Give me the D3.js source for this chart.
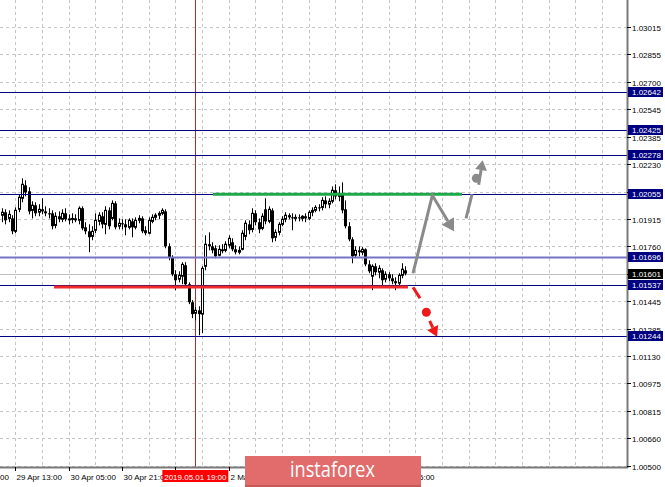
<!DOCTYPE html>
<html><head><meta charset="utf-8">
<script src="https://cdn.jsdelivr.net/npm/d3@7"></script>
<style>
body{margin:0;background:#fff;}
svg{display:block;font-family:"Liberation Sans",Arial,sans-serif;}
</style>
</head><body>
<svg id="c" width="665" height="487"></svg>
<script>
// ---- data (H1 candles) ----
const opens = [1.01935,1.01952,1.01917,1.01917,1.01843,1.01969,1.02032,1.02106,1.02072,1.01963,
1.01992,1.01952,1.01969,1.01957,1.01946,1.01946,1.01877,1.01929,1.01912,1.01946,
1.01912,1.01912,1.01917,1.01906,1.01975,1.01866,1.01843,1.01814,1.01849,1.01900,
1.01929,1.01883,1.01963,1.01917,1.02003,1.01872,1.01889,1.01883,1.01866,1.01900,
1.01866,1.01906,1.01917,1.01849,1.01832,1.01900,1.01923,1.01935,1.01946,1.01957,
1.01757,1.01694,1.01597,1.01569,1.01586,1.01649,1.01540,1.01437,1.01374,1.01391,
1.01369,1.01643,1.01769,1.01757,1.01746,1.01706,1.01740,1.01734,1.01763,1.01780,
1.01740,1.01723,1.01740,1.01814,1.01883,1.01854,1.01946,1.01895,1.01860,1.01969,
1.01900,1.01963,1.01809,1.01837,1.01883,1.01912,1.01935,1.01923,1.01917,1.01923,
1.01917,1.01929,1.01917,1.01952,1.01963,1.01980,1.01980,1.02020,1.01998,1.02015,
1.02078,1.02043,1.02055,1.01969,1.01872,1.01797,1.01706,1.01734,1.01723,1.01740,
1.01654,1.01586,1.01643,1.01609,1.01620,1.01569,1.01597,1.01574,1.01557,1.01546,
1.01591,1.01620];
const highs = [1.01975,1.01969,1.01963,1.01935,1.01980,1.02055,1.02146,1.02135,1.02095,1.02015,
1.02009,1.01998,1.02032,1.01986,1.01975,1.01963,1.01952,1.01957,1.01969,1.01975,
1.01940,1.01946,1.01940,1.01986,1.01986,1.01895,1.01883,1.01872,1.01946,1.01952,
1.01952,1.01986,1.01980,1.02020,1.02015,1.01917,1.01912,1.01912,1.01917,1.01917,
1.01923,1.01935,1.01929,1.01872,1.01923,1.01940,1.01946,1.01957,1.01975,1.01969,
1.01774,1.01706,1.01620,1.01614,1.01666,1.01666,1.01551,1.01449,1.01409,1.01414,
1.01643,1.01820,1.01837,1.01780,1.01763,1.01763,1.01769,1.01786,1.01820,1.01803,
1.01763,1.01757,1.01849,1.01906,1.01906,1.01975,1.01963,1.01917,1.01946,1.02032,
1.01986,1.01975,1.01854,1.01895,1.01929,1.01952,1.01946,1.01946,1.01940,1.01940,
1.01935,1.01946,1.01963,1.01980,1.01992,1.01998,1.02038,1.02043,1.02032,1.02100,
1.02112,1.02100,1.02123,1.02020,1.01895,1.01809,1.01757,1.01757,1.01752,1.01746,
1.01677,1.01654,1.01660,1.01649,1.01631,1.01614,1.01609,1.01597,1.01580,1.01603,
1.01660,1.01643];
const lows = [1.01895,1.01883,1.01895,1.01826,1.01832,1.01952,1.02009,1.02043,1.01940,1.01917,
1.01929,1.01929,1.01940,1.01929,1.01917,1.01854,1.01860,1.01895,1.01895,1.01900,
1.01883,1.01889,1.01895,1.01883,1.01849,1.01826,1.01723,1.01792,1.01832,1.01877,
1.01860,1.01826,1.01854,1.01906,1.01854,1.01854,1.01854,1.01820,1.01854,1.01809,
1.01854,1.01889,1.01832,1.01820,1.01826,1.01889,1.01906,1.01912,1.01935,1.01746,
1.01677,1.01586,1.01506,1.01551,1.01540,1.01529,1.01426,1.01346,1.01334,1.01248,
1.01260,1.01620,1.01734,1.01717,1.01689,1.01700,1.01717,1.01723,1.01746,1.01729,
1.01711,1.01711,1.01734,1.01792,1.01826,1.01837,1.01877,1.01832,1.01849,1.01883,
1.01889,1.01780,1.01786,1.01820,1.01872,1.01895,1.01912,1.01849,1.01900,1.01900,
1.01900,1.01895,1.01906,1.01929,1.01952,1.01957,1.01963,1.01975,1.01975,1.02003,
1.02026,1.02015,1.01946,1.01860,1.01786,1.01660,1.01689,1.01700,1.01706,1.01643,
1.01603,1.01506,1.01591,1.01574,1.01534,1.01551,1.01557,1.01540,1.01506,1.01529,
1.01574,1.01591];
const closes = [1.01952,1.01906,1.01940,1.01843,1.01963,1.02038,1.02112,1.02066,1.01957,1.01992,
1.01946,1.01969,1.01957,1.01946,1.01940,1.01872,1.01929,1.01912,1.01946,1.01912,
1.01914,1.01917,1.01906,1.01975,1.01860,1.01843,1.01809,1.01843,1.01906,1.01935,
1.01883,1.01963,1.01872,1.02003,1.01866,1.01889,1.01883,1.01866,1.01906,1.01866,
1.01906,1.01917,1.01843,1.01832,1.01906,1.01923,1.01935,1.01946,1.01963,1.01757,
1.01694,1.01597,1.01563,1.01591,1.01654,1.01540,1.01437,1.01369,1.01391,1.01369,
1.01631,1.01769,1.01757,1.01734,1.01700,1.01740,1.01729,1.01769,1.01803,1.01740,
1.01723,1.01734,1.01832,1.01889,1.01849,1.01946,1.01895,1.01854,1.01929,1.01900,
1.01969,1.01803,1.01837,1.01883,1.01912,1.01935,1.01923,1.01917,1.01923,1.01917,
1.01929,1.01917,1.01952,1.01963,1.01980,1.01975,1.02020,1.01998,1.02015,1.02078,
1.02043,1.02055,1.01963,1.01872,1.01797,1.01700,1.01734,1.01723,1.01740,1.01654,
1.01614,1.01643,1.01609,1.01631,1.01563,1.01597,1.01574,1.01557,1.01546,1.01591,
1.01626,1.01601];

const levelPrices = [1.02642, 1.02425, 1.02278, 1.02055, 1.01696, 1.01537, 1.01244];
const levelLabels = ["1.02642","1.02425","1.02278","1.02055","1.01696","1.01537","1.01244"];
const currentPrice = 1.01601;
const currentLabel = "1.01601";
// price scale ticks (the ones hidden under the level boxes are left out)
const yTickValues = [1.03015,1.02855,1.02700,1.02545,1.02385,1.02230,1.02070,1.01915,
  1.01760,1.01600,1.01445,1.01285,1.01130,1.00975,1.00815,1.00660,1.00500];
const yTickLabels = ["1.03015","1.02855","1.02700","1.02545","1.02385","1.02230","","1.01915",
  "1.01760","","1.01445","1.01285","1.01130","1.00975","1.00815","1.00660","1.00500"];
// time scale ticks every 16 bars; labels hidden under boxes are left empty
const timeLabelIdx = [-12, 4, 20, 36, 52, 68, 84, 100, 116];
const timeLabels = ["28 Apr 21:00","29 Apr 13:00","30 Apr 05:00","30 Apr 21:00","",
  "2 May 05:00","","","6 May 05:00"];
const gridIdx = d3.range(4, 188, 8);
const markerIdx = 58, markerLabel = "2019.05.01 19:00";
// drawn objects (bar index, price)
const supportLine = [[15.6, 1.01525], [121.8, 1.01525]];
const resistanceLine = [[63.3, 1.02055], [138, 1.02055]];
const greyArrow = [[123.3, 1.01603], [129.1, 1.02049], [135.6, 1.01843]];
const greyDash = [[139.2, 1.01917], [141.0, 1.02055]];
const greyDot = [142.3, 1.02146];
const greyHead = [[143.0, 1.02110], [144.2, 1.02250]];
const redDash = [[123.3, 1.01523], [125.4, 1.01460]];
const redDot = [127.3, 1.01380];
const redHead = [[128.3, 1.01330], [130.5, 1.01240]];

// ---- layout ----
const W = 665, H = 487, plotR = 627, plotB = 467;
const svg = d3.select("#c");
const x = d3.scaleLinear().domain([0, 187.5]).range([2, 627]);
const y = d3.scaleLinear().domain([1.005, 1.03015]).range([466, 26.5]);

svg.append("rect").attr("width", W).attr("height", H).attr("fill", "#fff");

// grid
const grid = svg.append("g").attr("stroke", "#c6c6c6").attr("stroke-dasharray", "3,3").attr("stroke-width", 1);
yTickValues.forEach(t => {
  const yy = Math.round(y(t)) + 0.5;
  grid.append("line").attr("x1", 0).attr("x2", plotR).attr("y1", yy).attr("y2", yy);
});
gridIdx.forEach(i => {
  const xx = Math.round(x(i)) + 0.5;
  if (xx < plotR) grid.append("line").attr("x1", xx).attr("x2", xx).attr("y1", 0).attr("y2", plotB);
});

// current price line
svg.append("line").attr("x1", 0).attr("x2", plotR)
  .attr("y1", Math.round(y(currentPrice)) + 0.5).attr("y2", Math.round(y(currentPrice)) + 0.5)
  .attr("stroke", "#c0c0c0").attr("stroke-width", 1);

// marker vertical line
svg.append("line").attr("x1", Math.round(x(markerIdx)) + 0.5).attr("x2", Math.round(x(markerIdx)) + 0.5)
  .attr("y1", 0).attr("y2", plotB).attr("stroke", "#c02828").attr("stroke-width", 1);

// candles
const cg = svg.append("g");
closes.forEach((c, i) => {
  const cx = Math.round(x(i));
  const o = opens[i];
  cg.append("line").attr("x1", cx + 0.5).attr("x2", cx + 0.5)
    .attr("y1", y(highs[i])).attr("y2", y(lows[i])).attr("stroke", "#000").attr("stroke-width", 1);
  const top = y(Math.max(o, c)), bot = y(Math.min(o, c));
  if (c >= o) {
    cg.append("rect").attr("x", cx - 0.5).attr("y", top).attr("width", 2).attr("height", Math.max(bot - top, 1))
      .attr("fill", "#fff").attr("stroke", "#000").attr("stroke-width", 1);
  } else {
    cg.append("rect").attr("x", cx - 1).attr("y", top).attr("width", 3).attr("height", Math.max(bot - top, 1))
      .attr("fill", "#000");
  }
});

// level lines
levelPrices.forEach((p, k) => {
  const yy = Math.round(y(p)) + 0.5;
  const light = levelLabels[k] === "1.01696";
  svg.append("line").attr("x1", 0).attr("x2", plotR).attr("y1", yy).attr("y2", yy)
    .attr("stroke", light ? "#7474c4" : "#000080").attr("stroke-width", light ? 2 : 1);
});

// thick support / resistance
const line = d3.line().x(d => x(d[0])).y(d => y(d[1]));
svg.append("path").attr("d", line(resistanceLine)).attr("stroke", "#1fa84a").attr("stroke-width", 3).attr("fill", "none");
svg.append("path").attr("d", line(supportLine)).attr("stroke", "#f02a2a").attr("stroke-width", 3).attr("fill", "none");

// arrows
function head(g, p0, p1, color, size) {
  const x0 = x(p0[0]), y0 = y(p0[1]), x1 = x(p1[0]), y1 = y(p1[1]);
  const a = Math.atan2(y1 - y0, x1 - x0);
  const L = size, Wd = size * 0.6;
  const bx = x1 - L * Math.cos(a), by = y1 - L * Math.sin(a);
  const pts = [[x1, y1], [bx + Wd * Math.sin(a), by - Wd * Math.cos(a)], [bx - Wd * Math.sin(a), by + Wd * Math.cos(a)]];
  g.append("polygon").attr("points", pts.map(p => p.join(",")).join(" ")).attr("fill", color);
  return [bx, by];
}
const ag = svg.append("g");
{
  const pts = greyArrow.map(d => [x(d[0]), y(d[1])]);
  const b = head(ag, greyArrow[1], greyArrow[2], "#8a8a8a", 12);
  ag.append("path").attr("d", d3.line()([pts[0], pts[1], b])).attr("stroke", "#8a8a8a").attr("stroke-width", 3).attr("fill", "none").attr("stroke-linejoin", "miter");
  ag.append("path").attr("d", line(greyDash)).attr("stroke", "#8a8a8a").attr("stroke-width", 3).attr("fill", "none");
  ag.append("circle").attr("cx", x(greyDot[0])).attr("cy", y(greyDot[1])).attr("r", 4.5).attr("fill", "#8a8a8a");
  const b2 = head(ag, greyHead[0], greyHead[1], "#8a8a8a", 10);
  ag.append("path").attr("d", d3.line()([[x(greyHead[0][0]), y(greyHead[0][1])], b2])).attr("stroke", "#8a8a8a").attr("stroke-width", 3);
  ag.append("path").attr("d", line(redDash)).attr("stroke", "#f01818").attr("stroke-width", 3).attr("fill", "none");
  ag.append("circle").attr("cx", x(redDot[0])).attr("cy", y(redDot[1])).attr("r", 4.5).attr("fill", "#f01818");
  const b3 = head(ag, redHead[0], redHead[1], "#f01818", 10);
  ag.append("path").attr("d", d3.line()([[x(redHead[0][0]), y(redHead[0][1])], b3])).attr("stroke", "#f01818").attr("stroke-width", 3);
}

// axes frame
svg.append("rect").attr("x", plotR).attr("y", 0).attr("width", W - plotR).attr("height", H).attr("fill", "#fff");
svg.append("rect").attr("x", 0).attr("y", plotB).attr("width", plotR).attr("height", H - plotB).attr("fill", "#fff");
svg.append("line").attr("x1", plotR + 0.5).attr("x2", plotR + 0.5).attr("y1", 0).attr("y2", plotB + 1)
  .attr("stroke", "#7a7a7a").attr("stroke-width", 2);
svg.append("line").attr("x1", 0).attr("x2", plotR + 1).attr("y1", plotB + 0.5).attr("y2", plotB + 0.5)
  .attr("stroke", "#7a7a7a").attr("stroke-width", 2);

// y tick labels
const yl = svg.append("g").attr("font-size", 8).attr("fill", "#000");
yTickValues.forEach((t, k) => {
  const yy = Math.round(y(t)) + 0.5;
  svg.append("line").attr("x1", plotR).attr("x2", plotR + 4).attr("y1", yy).attr("y2", yy).attr("stroke", "#000");
  if (yTickLabels[k]) yl.append("text").attr("x", plotR + 5).attr("y", yy + 3).text(yTickLabels[k]);
});

// level boxes
function priceBox(p, label, fill) {
  const yy = Math.round(y(p));
  svg.append("rect").attr("x", plotR + 1).attr("y", yy - 5).attr("width", 35).attr("height", 10).attr("fill", fill);
  svg.append("text").attr("x", plotR + 5).attr("y", yy + 3).attr("font-size", 8).attr("fill", "#fff").text(label);
}
levelPrices.forEach((p, k) => priceBox(p, levelLabels[k], "#000080"));
priceBox(currentPrice, currentLabel, "#000");

// x labels
const xl = svg.append("g").attr("font-size", 8).attr("fill", "#000");
timeLabelIdx.forEach((i, k) => {
  const xx = Math.round(x(i)) + 0.5;
  svg.append("line").attr("x1", xx).attr("x2", xx).attr("y1", plotB).attr("y2", plotB + 4).attr("stroke", "#000");
  if (timeLabels[k]) xl.append("text").attr("x", xx + 1).attr("y", plotB + 13).text(timeLabels[k]);
});
// marker time box
{
  const mx = x(markerIdx);
  svg.append("rect").attr("x", mx - 33).attr("y", plotB + 3).attr("width", 66).attr("height", 12).attr("fill", "#ff0000");
  svg.append("text").attr("x", mx).attr("y", plotB + 13).attr("text-anchor", "middle").attr("font-size", 8)
    .attr("fill", "#fff").text(markerLabel);
}

// watermark
svg.append("rect").attr("x", 245).attr("y", 456).attr("width", 176).attr("height", 31).attr("fill", "#e26b6b");
svg.append("rect").attr("x", 245).attr("y", 485).attr("width", 176).attr("height", 2).attr("fill", "#c95858");
svg.append("text").attr("x", 290).attr("y", 477)
  .attr("font-family", "'Open Sans',sans-serif").attr("font-size", 21).attr("fill", "#fff")
  .attr("textLength", 85).attr("lengthAdjust", "spacingAndGlyphs").text("instaforex");
</script>
</body></html>
